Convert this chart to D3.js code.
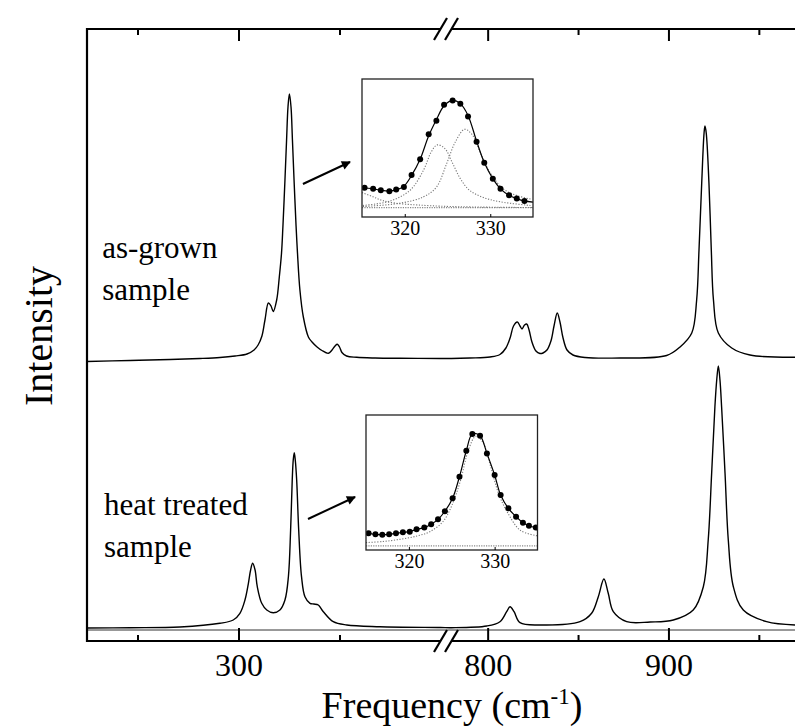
<!DOCTYPE html>
<html>
<head>
<meta charset="utf-8">
<script src="https://cdn.jsdelivr.net/npm/d3@7"></script>
<style>
  body { margin: 0; background: #fff; }
  svg { display: block; font-family: "Liberation Serif", "Times New Roman", serif; }
</style>
</head>
<body>
<script>
// Raman spectra (cm-1, arbitrary intensity)
const asGrownFreq = [225, 246.3, 266.1, 280.9, 290.8, 298.3, 304.2, 307.7, 309.7, 311.6, 313.1, 314.8, 316.1, 317.2, 318.9, 320.2, 321.3, 322.0, 323.0, 323.8, 324.5, 325.2, 326.0, 326.7, 327.5, 328.5, 329.2, 330.4, 332.1, 334.6, 336.4, 338.9, 341.3, 344.5, 346.3, 347.8, 348.9, 350.0, 351.2, 353.5, 358.5, 367.6, 380, 400,
  780, 790.2, 801.3, 806.8, 810.1, 812.4, 814.3, 816.4, 817.9, 819.0, 820.4, 821.6, 822.9, 824.5, 826.7, 828.9, 830.6, 832.8, 835.0, 836.7, 838.5, 840.0, 841.7, 843.9, 847.2, 853.9, 873.3, 899.0, 906.4, 912.9, 915.6, 916.9, 918.4, 919.7, 920.2, 920.9, 922.4, 923.7, 924.9, 927.6, 935.0, 945.1, 970];
const asGrownInt = [-0.035, -0.025, -0.015, -0.005, 0.005, 0.02, 0.04, 0.08, 0.13, 0.22, 0.38, 0.55, 0.52, 0.465, 0.58, 0.81, 1.05, 1.32, 1.78, 2.18, 2.51, 2.64, 2.51, 2.18, 1.78, 1.32, 1.05, 0.68, 0.41, 0.21, 0.16, 0.11, 0.075, 0.047, 0.08, 0.12, 0.137, 0.11, 0.055, 0.02, 0.007, 0, -0.003, -0.005,
  -0.005, 0, 0.01, 0.035, 0.10, 0.20, 0.32, 0.36, 0.32, 0.29, 0.33, 0.34, 0.28, 0.16, 0.07, 0.045, 0.05, 0.08, 0.17, 0.32, 0.45, 0.36, 0.20, 0.08, 0.03, 0.005, 0, 0.025, 0.11, 0.25, 0.58, 1.08, 1.75, 2.25, 2.32, 2.25, 1.75, 1.08, 0.58, 0.25, 0.10, 0.03, 0.007];

const heatFreq = [225, 246.3, 271.0, 290.8, 297.4, 300.7, 303.2, 304.9, 306.0, 307.0, 308.2, 309.3, 311.5, 314.0, 317.2, 320.5, 323.0, 324.7, 325.8, 326.6, 327.1, 327.6, 328.1, 328.8, 329.8, 331.2, 332.9, 335.4, 337.3, 339.5, 342.0, 346.9, 353.6, 370.0, 400,
  780, 799.5, 806.8, 810.5, 812.4, 814.6, 817.9, 829.0, 851.1, 857.5, 861.2, 864.3, 866.7, 869.5, 876.9, 889.9, 902.7, 913.7, 919.3, 922.0, 923.9, 925.7, 926.7, 927.6, 928.5, 929.4, 931.3, 933.1, 935.9, 941.4, 954.3, 970];
const heatInt = [0, 0.003, 0.01, 0.047, 0.08, 0.147, 0.28, 0.447, 0.58, 0.647, 0.58, 0.413, 0.247, 0.18, 0.153, 0.18, 0.28, 0.513, 0.98, 1.48, 1.68, 1.753, 1.68, 1.48, 0.98, 0.513, 0.313, 0.247, 0.24, 0.23, 0.163, 0.063, 0.03, 0.013, 0.005,
  0.003, 0.02, 0.063, 0.163, 0.213, 0.163, 0.053, 0.03, 0.063, 0.147, 0.313, 0.49, 0.347, 0.163, 0.063, 0.06, 0.08, 0.18, 0.413, 0.88, 1.547, 2.213, 2.48, 2.62, 2.48, 2.213, 1.547, 0.88, 0.413, 0.18, 0.063, 0.03];

const majorTicks = [300, 800, 900];
const minorTicks = [250, 350, 850, 950];
const insetTicks = [320, 330];

// inset 1 (as-grown), normalised intensity
const in1DotFreq = [315.3, 316.3, 317.2, 318.2, 319.0, 319.9, 320.8, 321.8, 322.8, 323.7, 324.6, 325.6, 326.5, 327.4, 328.4, 329.3, 330.3, 331.2, 332.2, 333.1, 334.0];
const in1DotInt = [0.184, 0.175, 0.162, 0.153, 0.169, 0.193, 0.303, 0.45, 0.685, 0.81, 0.96, 1.0, 0.969, 0.85, 0.615, 0.418, 0.268, 0.175, 0.115, 0.084, 0.062];
const in1FitFreq = [315, 315.3, 316.3, 317.2, 318.2, 319.0, 319.9, 320.8, 321.8, 322.8, 323.7, 324.6, 325.6, 326.5, 327.4, 328.4, 329.3, 330.3, 331.2, 332.2, 333.1, 334.0, 335];
const in1FitInt = [0.188, 0.184, 0.175, 0.162, 0.155, 0.165, 0.2, 0.3, 0.45, 0.67, 0.82, 0.95, 1.0, 0.97, 0.86, 0.62, 0.42, 0.27, 0.175, 0.115, 0.084, 0.062, 0.05];
const in1C1Freq = [315.1, 318.25, 320.6, 322.2, 323.1, 323.8, 324.7, 325.5, 326.5, 327.6, 329.2, 331.2, 334.7];
const in1C1Int = [0.02, 0.06, 0.16, 0.35, 0.52, 0.585, 0.55, 0.43, 0.27, 0.16, 0.094, 0.053, 0.02];
const in1C2Freq = [315.1, 319.4, 322.2, 323.7, 324.9, 325.9, 327.0, 327.9, 328.9, 330.1, 331.6, 333.2, 334.7];
const in1C2Int = [0.01, 0.04, 0.10, 0.19, 0.41, 0.61, 0.73, 0.68, 0.50, 0.31, 0.17, 0.11, 0.08];
const in1C3Freq = [315.0, 316.3, 317.4, 319.0, 321.4, 325.3, 335];
const in1C3Int = [0.14, 0.10, 0.066, 0.04, 0.025, 0.01, 0.0];

// inset 2 (heat treated)
const in2DotFreq = [315.3, 316.1, 316.9, 317.7, 318.5, 319.3, 320.1, 320.9, 321.8, 322.6, 323.4, 324.2, 325.1, 325.9, 326.7, 327.4, 328.3, 329.1, 330.0, 330.7, 331.6, 332.5, 333.3, 334.0, 334.8];
const in2DotInt = [0.113, 0.104, 0.101, 0.104, 0.113, 0.122, 0.128, 0.149, 0.164, 0.194, 0.238, 0.31, 0.426, 0.619, 0.851, 1.0, 0.985, 0.827, 0.634, 0.455, 0.336, 0.262, 0.208, 0.181, 0.164];
const in2FitFreq = [315, 315.3, 316.1, 316.9, 317.7, 318.5, 319.3, 320.1, 320.9, 321.8, 322.6, 323.4, 324.2, 325.1, 325.9, 326.7, 327.4, 328.3, 329.1, 330.0, 330.7, 331.6, 332.5, 333.3, 334.0, 334.8, 335];
const in2FitInt = [0.115, 0.113, 0.104, 0.101, 0.104, 0.113, 0.122, 0.128, 0.149, 0.164, 0.194, 0.238, 0.31, 0.426, 0.619, 0.851, 1.0, 0.985, 0.827, 0.634, 0.455, 0.336, 0.262, 0.208, 0.181, 0.164, 0.16];
const in2CFreq = [315, 317, 319, 321, 322.5, 324, 325, 326, 327, 327.8, 328.6, 329.5, 330.5, 331.5, 333, 335];
const in2CInt = [0.03, 0.04, 0.06, 0.09, 0.13, 0.22, 0.36, 0.58, 0.87, 0.98, 0.93, 0.72, 0.46, 0.30, 0.14, 0.09];

const sampleNames = [["as-grown", "sample"], ["heat treated", "sample"]];

window.onload = function () {

  function getDimensions() {
    const DIMENSIONS = {
      width: 795,
      height: 728,
      left: 87,
      top: 29,
      bottom: 641,
      right: 795,
      breakL: 440.5,
      breakR: 451.5
    }
    return DIMENSIONS
  }

  const OFFSET = 2.7; // vertical shift of the as-grown trace

  function zip(xs, ys) {
    return xs.map((x, i) => [x, ys[i]]);
  }

  function chart() {
    const DM = getDimensions();

    const SVG = d3.select('body')
                  .append('svg')
                  .attr('width', DM.width)
                  .attr('height', DM.height);

    const xLeft = d3.scaleLinear().domain([225, 400]).range([DM.left, DM.breakL]);
    const xRight = d3.scaleLinear().domain([780, 970]).range([DM.breakR, DM.right]);
    const yScale = d3.scaleLinear().domain([-0.13, 5.99]).range([DM.bottom, DM.top]);
    const xAny = f => f < 600 ? xLeft(f) : xRight(f);

    // zero line under the lower trace
    SVG.append('line')
       .attr('x1', DM.left).attr('x2', DM.right)
       .attr('y1', yScale(-0.02)).attr('y2', yScale(-0.02))
       .attr('stroke', '#333').attr('stroke-width', 1);

    // spectra, both segments in one path (the break only cuts the axes)
    const line = d3.line()
                  .x(d => xAny(d[0]))
                  .y(d => yScale(d[1]))
                  .curve(d3.curveCatmullRom.alpha(0.5));

    [zip(asGrownFreq, asGrownInt.map(v => v + OFFSET)), zip(heatFreq, heatInt)].forEach(pts => {
      SVG.append('path')
         .datum(pts)
         .attr('d', line)
         .attr('fill', 'none').attr('stroke', '#000').attr('stroke-width', 1.4);
    });

    // axes
    function styleAxis(g) {
      g.select('.domain').remove();
      g.selectAll('line').attr('stroke', '#000').attr('stroke-width', 2);
      g.attr('font-family', '"Liberation Serif", "Times New Roman", serif')
       .attr('font-size', 32);
      g.selectAll('text').attr('fill', '#000');
    }

    [xLeft, xRight].forEach(xs => {
      const dom = xs.domain();
      const inDom = v => v >= dom[0] && v <= dom[1];

      SVG.append('g')
         .attr('transform', `translate(0, ${DM.bottom})`)
         .call(d3.axisBottom(xs).tickValues(majorTicks.filter(inDom)).tickSize(-13).tickPadding(12).tickFormat(d3.format('d')))
         .call(styleAxis);
      SVG.append('g')
         .attr('transform', `translate(0, ${DM.bottom})`)
         .call(d3.axisBottom(xs).tickValues(minorTicks.filter(inDom)).tickSize(-6).tickFormat(''))
         .call(styleAxis);
      SVG.append('g')
         .attr('transform', `translate(0, ${DM.top})`)
         .call(d3.axisTop(xs).tickValues(majorTicks.filter(inDom)).tickSize(-12).tickFormat(''))
         .call(styleAxis);
      SVG.append('g')
         .attr('transform', `translate(0, ${DM.top})`)
         .call(d3.axisTop(xs).tickValues(minorTicks.filter(inDom)).tickSize(-6).tickFormat(''))
         .call(styleAxis);

      [DM.top, DM.bottom].forEach(yy => {
        SVG.append('line')
           .attr('x1', xs.range()[0] - (xs === xLeft ? 1 : 0)).attr('x2', xs.range()[1])
           .attr('y1', yy).attr('y2', yy)
           .attr('stroke', '#000').attr('stroke-width', 2.2);
      });
    });

    SVG.append('line')
       .attr('x1', DM.left).attr('x2', DM.left)
       .attr('y1', DM.top - 1).attr('y2', DM.bottom + 1)
       .attr('stroke', '#000').attr('stroke-width', 2.2);

    // axis break marks
    [DM.top, DM.bottom].forEach(yy => {
      [DM.breakL, DM.breakR].forEach(xx => {
        SVG.append('line')
           .attr('x1', xx - 6.5).attr('y1', yy + 11)
           .attr('x2', xx + 6.5).attr('y2', yy - 11)
           .attr('stroke', '#000').attr('stroke-width', 2.2);
      });
    });

    // axis titles
    SVG.append('text')
       .attr('transform', `translate(52, ${(DM.top + DM.bottom) / 2 + 1}) rotate(-90)`)
       .attr('text-anchor', 'middle')
       .attr('font-size', 40)
       .text('Intensity');

    const xt = SVG.append('text')
       .attr('x', 452).attr('y', 718)
       .attr('text-anchor', 'middle')
       .attr('font-size', 38);
    xt.append('tspan').text('Frequency (cm');
    xt.append('tspan').attr('font-size', 23).attr('dy', -14).text('-1');
    xt.append('tspan').attr('dy', 14).text(')');

    // sample labels
    const labelFreq = [232.5, 233.4];
    const labelInt = [1.0 + OFFSET, 1.13];
    sampleNames.forEach((lines, i) => {
      const t = SVG.append('text')
         .attr('x', xLeft(labelFreq[i])).attr('y', yScale(labelInt[i]))
         .attr('font-size', 31);
      lines.forEach((s, j) => {
        t.append('tspan').attr('x', xLeft(labelFreq[i])).attr('dy', j === 0 ? 0 : 42).text(s);
      });
    });

    // arrows pointing to the insets
    const defs = SVG.append('defs');
    defs.append('marker')
        .attr('id', 'head')
        .attr('viewBox', '0 0 10 10')
        .attr('refX', 9).attr('refY', 5)
        .attr('markerWidth', 11).attr('markerHeight', 9)
        .attr('markerUnits', 'userSpaceOnUse')
        .attr('orient', 'auto')
        .append('path').attr('d', 'M0,0 L10,5 L0,10 z').attr('fill', '#000');

    const arrowFrom = [[331.9, 1.74 + OFFSET], [334.4, 1.09]];
    const arrowTo = [[355.2, 1.96 + OFFSET], [357.7, 1.31]];
    arrowFrom.forEach((a, i) => {
      SVG.append('line')
         .attr('x1', xLeft(a[0])).attr('y1', yScale(a[1]))
         .attr('x2', xLeft(arrowTo[i][0])).attr('y2', yScale(arrowTo[i][1]))
         .attr('stroke', '#000').attr('stroke-width', 2)
         .attr('marker-end', 'url(#head)');
    });

    // insets
    function inset(id, box, yDom, fit, dots, comps) {
      const ix = d3.scaleLinear().domain([315, 335]).range([box.x0, box.x1]);
      const iy = d3.scaleLinear().domain(yDom).range([box.y1, box.y0]);
      const g = SVG.append('g');

      g.append('rect')
       .attr('x', box.x0).attr('y', box.y0)
       .attr('width', box.x1 - box.x0).attr('height', box.y1 - box.y0)
       .attr('fill', '#fff');

      defs.append('clipPath').attr('id', id)
          .append('rect')
          .attr('x', box.x0).attr('y', box.y0)
          .attr('width', box.x1 - box.x0).attr('height', box.y1 - box.y0);

      const inner = g.append('g').attr('clip-path', `url(#${id})`);
      const iline = d3.line().x(d => ix(d[0])).y(d => iy(d[1])).curve(d3.curveCatmullRom.alpha(0.5));

      inner.append('line')
           .attr('x1', box.x0).attr('x2', box.x1)
           .attr('y1', iy(0)).attr('y2', iy(0))
           .attr('stroke', '#888').attr('stroke-width', 1.2).attr('stroke-dasharray', '1.2 1.2');

      comps.forEach(c => {
        inner.append('path').datum(c).attr('d', iline)
             .attr('fill', 'none').attr('stroke', '#777').attr('stroke-width', 1.1)
             .attr('stroke-dasharray', '1.2 1.6');
      });

      inner.append('path').datum(fit).attr('d', iline)
           .attr('fill', 'none').attr('stroke', '#000').attr('stroke-width', 1.2);

      inner.selectAll('circle').data(dots).join('circle')
           .attr('cx', d => ix(d[0])).attr('cy', d => iy(d[1]))
           .attr('r', 3).attr('fill', '#000');

      g.append('rect')
       .attr('x', box.x0).attr('y', box.y0)
       .attr('width', box.x1 - box.x0).attr('height', box.y1 - box.y0)
       .attr('fill', 'none').attr('stroke', '#222').attr('stroke-width', 1.3);

      g.append('g')
       .attr('transform', `translate(0, ${box.y1})`)
       .call(d3.axisBottom(ix).tickValues(insetTicks).tickSize(-3).tickPadding(4))
       .call(a => {
         a.select('.domain').remove();
         a.selectAll('line').attr('stroke', '#000');
         a.attr('font-family', '"Liberation Serif", "Times New Roman", serif').attr('font-size', 20);
         a.selectAll('text').attr('fill', '#000');
       });
    }

    inset('clip1', { x0: 362, x1: 533, y0: 79, y1: 217 }, [-0.088, 1.2],
          zip(in1FitFreq, in1FitInt), zip(in1DotFreq, in1DotInt),
          [zip(in1C1Freq, in1C1Int), zip(in1C2Freq, in1C2Int), zip(in1C3Freq, in1C3Int)]);

    inset('clip2', { x0: 366, x1: 537.5, y0: 415, y1: 550 }, [-0.036, 1.17],
          zip(in2FitFreq, in2FitInt), zip(in2DotFreq, in2DotInt),
          [zip(in2CFreq, in2CInt)]);
  }

  chart();
}
</script>
</body>
</html>
